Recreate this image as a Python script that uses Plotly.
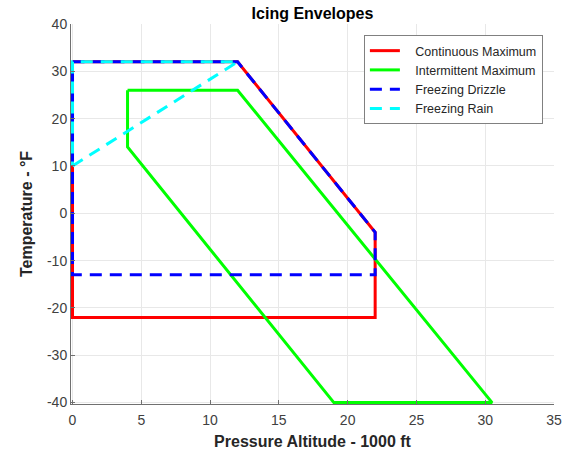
import plotly.graph_objects as go

# Data
cont_x = [0, 12, 22, 22, 0, 0]
cont_y = [32, 32, -4, -22, -22, 32]
inter_x = [4, 12, 30.5, 19, 4, 4]
inter_y = [26, 26, -40, -40, 14, 26]
drz_x = [0, 12, 22, 22, 0, 0]
drz_y = [32, 32, -4, -13, -13, 32]
rain_x = [0, 12, 0, 0]
rain_y = [10, 32, 32, 10]

series_names = ["Continuous Maximum", "Intermittent Maximum", "Freezing Drizzle", "Freezing Rain"]

x_ticks = [0, 5, 10, 15, 20, 25, 30, 35]
x_labels = ["0", "5", "10", "15", "20", "25", "30", "35"]
y_ticks = [-40, -30, -20, -10, 0, 10, 20, 30, 40]
y_labels = ["-40", "-30", "-20", "-10", "0", "10", "20", "30", "40"]

FONT = "Liberation Sans, Arial, sans-serif"
PAD = "\u00a0\u00a0\u00a0"

W, H = 580, 453
L, R, T, B = 71, 26, 24, 49

fig = go.Figure()
fig.add_trace(go.Scatter(x=cont_x, y=cont_y, mode="lines", name=PAD + series_names[0],
                         line=dict(color="#FF0000", width=3)))
fig.add_trace(go.Scatter(x=inter_x, y=inter_y, mode="lines", name=PAD + series_names[1],
                         line=dict(color="#00FF00", width=3)))
fig.add_trace(go.Scatter(x=drz_x, y=drz_y, mode="lines", name=PAD + series_names[2],
                         line=dict(color="#0000FF", width=3, dash="12px,8px")))
fig.add_trace(go.Scatter(x=rain_x, y=rain_y, mode="lines", name=PAD + series_names[3],
                         line=dict(color="#00FFFF", width=3, dash="12px,8px")))

axis_common = dict(showgrid=True, gridcolor="#E8E8E8", gridwidth=1,
                   zeroline=False, showline=True, linecolor="#707070", linewidth=1,
                   ticks="inside", ticklen=4, tickcolor="#707070",
                   tickfont=dict(family=FONT, size=14, color="#404040"),
                   mirror=False, automargin=False, tickmode="array")

fig.update_layout(
    width=W, height=H,
    margin=dict(l=L, r=R, t=T, b=B),
    paper_bgcolor="white", plot_bgcolor="white",
    title=dict(text="<b>Icing Envelopes</b>", x=(L + (W - R)) / 2 / W, xanchor="center",
               y=1 - 13.5 / H, yanchor="middle",
               font=dict(family=FONT, size=16, color="black")),
    xaxis=dict(range=[-0.11, 35], tickvals=x_ticks, ticktext=x_labels, ticklabelstandoff=3,
               title=dict(text="<b>Pressure Altitude - 1000 ft</b>", standoff=9,
                          font=dict(family=FONT, size=16, color="#262626")),
               **axis_common),
    yaxis=dict(range=[-40.3, 40], tickvals=y_ticks, ticktext=y_labels,
               title=dict(text="<b>Temperature - °F</b>", standoff=10,
                          font=dict(family=FONT, size=16, color="#262626")),
               **axis_common),
    legend=dict(x=0.977, xanchor="right", y=0.971, yanchor="top",
                bgcolor="white", bordercolor="#808080", borderwidth=1,
                font=dict(family=FONT, size=12.5, color="#262626"),
                tracegroupgap=0),
    showlegend=True,
)

fig.write_html("out.html", config={"displayModeBar": False},
               post_script="document.body.style.margin='0';document.body.style.overflow='hidden';")
